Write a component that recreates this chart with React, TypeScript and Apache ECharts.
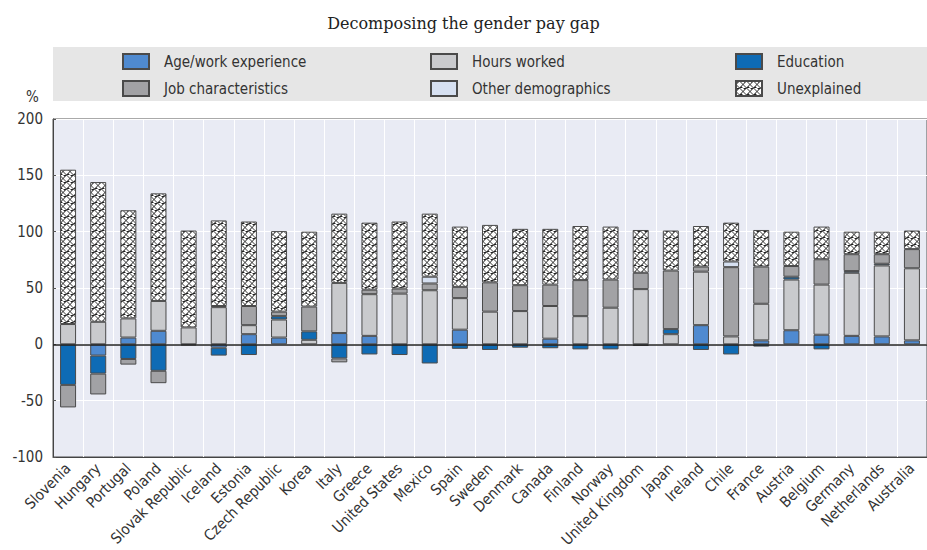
import React, { useEffect, useRef } from "react";
import * as echarts from "echarts";

const categories = [
  "Slovenia", "Hungary", "Portugal", "Poland", "Slovak Republic", "Iceland", "Estonia",
  "Czech Republic", "Korea", "Italy", "Greece", "United States", "Mexico", "Spain", "Sweden",
  "Denmark", "Canada", "Finland", "Norway", "United Kingdom", "Japan", "Ireland", "Chile",
  "France", "Austria", "Belgium", "Germany", "Netherlands", "Australia",
];

const ageWork = [0, -10, 6, 12, 0, -3, 9, 6, 0, 10, 7.5, 0, 0, 13, 0, 0, 5, 0, 0, 0, 0, 17, 0, 3.5, 12.5, 8.5, 7.5, 7, 3.5];
const hoursWorked = [18, 20, 17, 26.5, 15, 33, 8, 16, 4, 44.5, 37, 45, 48, 28, 29, 29.5, 29, 25, 32.5, 49, 9, 47.5, 7, 32.5, 45, 44.5, 56, 63, 64];
const education = [-36, -16, -13, -23.5, -1, -7, -9.5, 3, 7.5, -12.5, -9, -9.5, -17, -4, -5, -3, -3.5, -4.5, -4.5, -1.5, 4.5, -5, -9, -2, 2.5, -4.5, 1.5, 1.5, 0];
const jobChar = [-20, -18.5, -5, -11, 0, 1, 17, 4, 22, -3.5, 4, 4.5, 6, 10, 26, 23, 19, 32, 25, 14.5, 52, 4.5, 61.5, 33, 9.5, 22.5, 15, 8.5, 17];
const otherDemo = [0, 0, 0, 0, 0, 0, 0, 0, 0, 0, 0, 0, 6, 0, 0, 0, 0, 0, 0, 0, 0, 0, 5, 0, 0, 0, 0, 0, 0];
const unexplained = [137, 124, 96, 95.5, 86, 76, 75, 71.5, 66.5, 61.5, 59.5, 59.5, 56, 53.5, 51, 50, 49.5, 48, 47, 38, 35.5, 36, 34.5, 32.5, 30.5, 29, 20, 20, 16.5];

const yTicks = { min: -100, max: 200, interval: 50 };

const SANS = "'Liberation Sans Narrow', 'DejaVu Sans Condensed', 'Roboto Condensed', sans-serif";

function makePattern(): HTMLCanvasElement {
  const s = 7;
  const c = document.createElement("canvas");
  c.width = s;
  c.height = s;
  const ctx = c.getContext("2d")!;
  ctx.fillStyle = "#222222";
  ctx.fillRect(0, 0, s, s);
  ctx.strokeStyle = "#ffffff";
  ctx.lineWidth = 4.2;
  for (let k = -1; k <= 1; k++) {
    ctx.beginPath();
    ctx.moveTo(k * s, s);
    ctx.lineTo(k * s + s, 0);
    ctx.stroke();
  }
  ctx.strokeStyle = "#222222";
  ctx.lineWidth = 0.9;
  for (let k = -1; k <= 1; k++) {
    ctx.beginPath();
    ctx.moveTo(k * s + s / 2, 0);
    ctx.lineTo(k * s + s / 2 + s, s);
    ctx.stroke();
  }
  return c;
}

export default function App() {
  const ref = useRef<HTMLDivElement>(null);

  useEffect(() => {
    document.body.style.margin = "0";
    const chart = echarts.init(ref.current!, null, { renderer: "svg" });
    const canvas = makePattern();
    const pattern: any = { image: canvas.toDataURL(), repeat: "repeat", imageWidth: 7, imageHeight: 7 };

    const defs = [
      { name: "Age/work experience", data: ageWork, color: "#4f8ad0" },
      { name: "Hours worked", data: hoursWorked, color: "#c9cacd" },
      { name: "Education", data: education, color: "#0e6bb5" },
      { name: "Job characteristics", data: jobChar, color: "#a2a2a5" },
      { name: "Other demographics", data: otherDemo, color: "#d6e0f1" },
      { name: "Unexplained", data: unexplained, color: pattern },
    ];

    const series: any[] = defs.map((d, i) => ({
      name: d.name,
      type: "bar",
      stack: "total",
      barWidth: 16,
      data: d.data.map((v) => (v === 0 ? null : v)),
      itemStyle: { color: d.color, borderColor: "#4a4a4a", borderWidth: 1 },
      emphasis: { disabled: true },
      ...(i === 0
        ? {
            markLine: {
              silent: true,
              symbol: "none",
              data: [{ yAxis: 0 }],
              lineStyle: { color: "#222", width: 1.5, type: "solid" },
              label: { show: false },
            },
          }
        : {}),
    }));

    const legendCommon = {
      orient: "vertical",
      top: 53,
      padding: 0,
      itemWidth: 26,
      itemHeight: 15,
      itemGap: 10,
      icon: "rect",
      selectedMode: false,
      textStyle: { fontFamily: SANS, fontSize: 15, color: "#333", lineHeight: 15, padding: [0, 0, 0, 10] },
    };

    chart.setOption({
      animation: false,
      title: {
        text: "Decomposing the gender pay gap",
        left: "center",
        top: 10,
        textStyle: { fontFamily: "'DejaVu Serif', 'Liberation Serif', serif", fontSize: 16, fontWeight: "normal", color: "#222" },
      },
      graphic: [
        { type: "rect", z: -10, shape: { x: 53, y: 47, width: 874, height: 54 }, style: { fill: "#e6e6e6" } },
        { type: "text", x: 26, y: 89, style: { text: "%", fontFamily: SANS, fontSize: 15, fill: "#333" } },
      ],
      legend: [
        { ...legendCommon, left: 122, data: ["Age/work experience", "Job characteristics"] },
        { ...legendCommon, left: 430, data: ["Hours worked", "Other demographics"] },
        { ...legendCommon, left: 735, data: ["Education", "Unexplained"] },
      ],
      grid: {
        left: 53,
        top: 119,
        width: 887,
        height: 340,
        show: true,
        backgroundColor: "#e9ebf4",
        borderColor: "#555",
        borderWidth: 1,
      },
      xAxis: {
        type: "category",
        data: categories,
        position: "bottom",
        axisLine: { onZero: false, lineStyle: { color: "#444", width: 1 } },
        axisTick: { inside: true, length: 5, lineStyle: { color: "#555" } },
        splitLine: { show: true, lineStyle: { color: "#ffffff", width: 1 } },
        axisLabel: { rotate: 45, fontFamily: SANS, fontSize: 15, color: "#333", margin: 9, interval: 0 },
      },
      yAxis: {
        type: "value",
        min: yTicks.min,
        max: yTicks.max,
        interval: yTicks.interval,
        axisLine: { show: true, lineStyle: { color: "#444" } },
        axisTick: { show: true, inside: true, length: 3, lineStyle: { color: "#555" } },
        splitLine: { show: true, lineStyle: { color: "#ffffff", width: 1 } },
        axisLabel: { fontFamily: SANS, fontSize: 15, color: "#333", margin: 10 },
      },
      series,
    });

    return () => chart.dispose();
  }, []);

  return <div ref={ref} style={{ width: 927, height: 550, position: "absolute", left: 0, top: 0 }} />;
}
